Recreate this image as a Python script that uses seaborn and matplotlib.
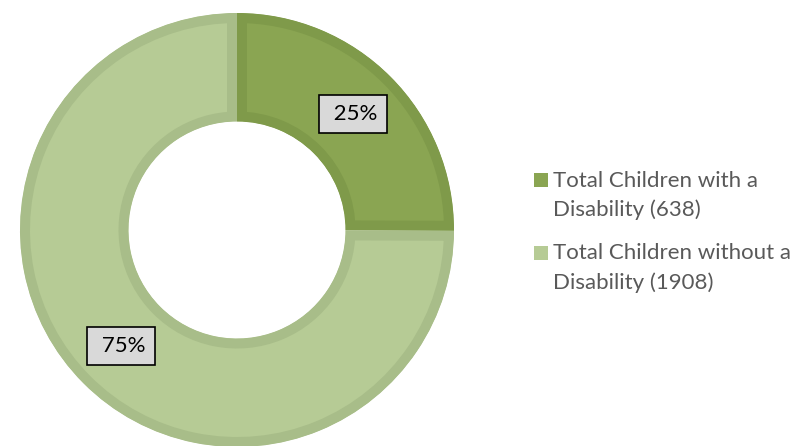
import matplotlib
matplotlib.use("Agg")
import matplotlib.pyplot as plt
import seaborn as sns
from matplotlib.patches import Rectangle

categories = ["Total Children with a\nDisability (638)", "Total Children without a\nDisability (1908)"]
values = [638, 1908]
fill_colors = ["#8aa552", "#b6cb95"]
edge_colors = ["#7f9a4a", "#a8bd89"]

sns.set_theme(style="white")
plt.rcParams['font.family'] = ['Lato', 'DejaVu Sans']

W, H = 792, 446
fig = plt.figure(figsize=(W / 100, H / 100), dpi=100)
cx, cy = 237, H - 230
S = 450
ax = fig.add_axes([(cx - S / 2) / W, (cy - S / 2) / H, S / W, S / H])
L = 225 / 217
ax.set_xlim(-L, L)
ax.set_ylim(-L, L)
ax.set_aspect("equal")
ax.axis("off")

wedges, texts, autotexts = ax.pie(
    values, startangle=90, counterclock=False, colors=fill_colors,
    radius=1.0, autopct=lambda p: f" {p:.0f}%", pctdistance=0.755,
    wedgeprops=dict(width=0.5, linewidth=14.4),
    textprops=dict(fontsize=16, color="black"))
for i, (w, ec) in enumerate(zip(wedges, edge_colors)):
    w.set_edgecolor(ec)
    w.set_clip_on(True)
    w.set_clip_path(w)  # inner stroke only
for t in autotexts:
    t.set_zorder(5)
    t.set_bbox(dict(boxstyle="square,pad=0.4", facecolor="#d9d9d9", edgecolor="black", linewidth=1.2))
ax.set_xlim(-L, L)
ax.set_ylim(-L, L)

# legend drawn manually (handle aligned with first line)
leg_x_sq, leg_x_txt = 534, 553
first_baselines = [187, 260]
last_baselines = [216.5, 289]
for lab, c, fb, lb in zip(categories, fill_colors, first_baselines, last_baselines):
    fig.patches.append(Rectangle((leg_x_sq / W, 1 - fb / H), 14 / W, 14 / H,
                                 transform=fig.transFigure, facecolor=c, edgecolor="none"))
    fig.text(leg_x_txt / W, 1 - lb / H, lab, ha="left", va="baseline",
             fontsize=16, color="#595959", linespacing=1.55)

fig.savefig("out.png", dpi=100)
